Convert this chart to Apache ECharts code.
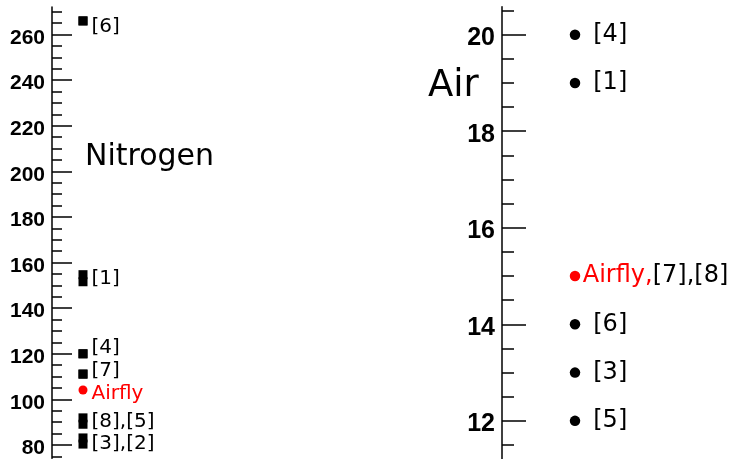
<!DOCTYPE html>
<html>
<head>
<meta charset="utf-8">
<script src="https://cdn.jsdelivr.net/npm/echarts@6/dist/echarts.min.js"></script>
<style>
  html, body { margin: 0; padding: 0; background: #fff; }
  #chart { width: 729px; height: 459px; }
</style>
</head>
<body>
<div id="chart"></div>
<script>
// 左图 Nitrogen
const nitroTicks = [80, 100, 120, 140, 160, 180, 200, 220, 240, 260];
const nitroMinor = [75, 80, 85, 90, 95, 100, 105, 110, 115, 120, 125, 130, 135, 140, 145, 150, 155, 160, 165, 170, 175, 180, 185, 190, 195, 200, 205, 210, 215, 220, 225, 230, 235, 240, 245, 250, 255, 260, 265, 270];
const nitroRefs = ['[6]', '[1]', '[4]', '[7]', '[8],[5]', '[3],[2]'];
const nitroLow = [266, 151.6, 120, 111.1, 89.1, 80.4];
const nitroHigh = [266, 154.7, 120, 111.1, 91.9, 83.1];
const nitroLabelAt = [263.6, 152.8, 122.8, 112.4, 90.0, 80.7];
const nitroAirfly = 104.1;
const nitroAirflyLabelAt = 102.6;

// 右图 Air
const airTicks = [12, 14, 16, 18, 20];
const airMinor = [11.5, 12, 12.5, 13, 13.5, 14, 14.5, 15, 15.5, 16, 16.5, 17, 17.5, 18, 18.5, 19, 19.5, 20, 20.5];
const airRefs = ['[4]', '[1]', '[6]', '[3]', '[5]'];
const airValues = [20, 19, 14, 13, 12];
const airAirfly = 15;
const airAirflyRefs = '[7],[8]';

const chart = echarts.init(document.getElementById('chart'));

const labelFont = 'DejaVu Sans';
const tickFont = 'Liberation Sans';

function majorAxis(grid, min, max, ticks, len, size) {
  return {
    type: 'value', gridIndex: grid, min: min, max: max, position: 'left',
    splitLine: { show: false },
    axisLine: { show: true, lineStyle: { color: '#000', width: 1.5 } },
    axisTick: { show: true, inside: true, length: len, customValues: ticks, lineStyle: { color: '#000', width: 1.5 } },
    axisLabel: {
      show: true, customValues: ticks, margin: 7,
      formatter: '{t|{value}}',
      rich: { t: { color: '#000', fontWeight: 'bold', fontSize: size, fontFamily: tickFont, padding: [7, 0, 0, 0] } }
    }
  };
}
function minorAxis(grid, min, max, ticks, len) {
  return {
    type: 'value', gridIndex: grid, min: min, max: max, position: 'left',
    splitLine: { show: false },
    axisLine: { show: false },
    axisTick: { show: true, inside: true, length: len, customValues: ticks, lineStyle: { color: '#000', width: 1.5 } },
    axisLabel: { show: false }
  };
}

const pt = (cat) => (v) => [cat, v];

const option = {
  animation: false,
  backgroundColor: '#fff',
  grid: [
    { left: 52, top: 7, width: 62, bottom: 0 },
    { left: 502, top: 6.7, width: 146, bottom: 0 }
  ],
  xAxis: [
    { type: 'category', gridIndex: 0, data: ['N'], show: false },
    { type: 'category', gridIndex: 1, data: ['A'], show: false }
  ],
  yAxis: [
    majorAxis(0, 74.17, 272.1, nitroTicks, 20, 21),
    minorAxis(0, 74.17, 272.1, nitroMinor, 10),
    majorAxis(1, 11.21, 20.58, airTicks, 24, 25),
    minorAxis(1, 11.21, 20.58, airMinor, 12)
  ],
  graphic: [
    { type: 'text', left: 85, top: 142, style: { text: 'Nitrogen', fontFamily: labelFont, fontSize: 30, fill: '#000' } },
    { type: 'text', left: 428, top: 68, style: { text: 'Air', fontFamily: labelFont, fontSize: 37, fill: '#000' } }
  ],
  series: [
    {
      type: 'scatter', xAxisIndex: 0, yAxisIndex: 0, symbol: 'rect', symbolSize: 9,
      itemStyle: { color: '#000', opacity: 1 }, data: nitroLow.map(pt('N'))
    },
    {
      type: 'scatter', xAxisIndex: 0, yAxisIndex: 0, symbol: 'rect', symbolSize: 9,
      itemStyle: { color: '#000', opacity: 1 }, data: nitroHigh.map(pt('N'))
    },
    {
      type: 'scatter', xAxisIndex: 0, yAxisIndex: 0, symbol: 'circle', symbolSize: 9,
      itemStyle: { color: '#ff0000', opacity: 1 }, data: [['N', nitroAirfly]]
    },
    {
      // 左图文字标注
      type: 'scatter', xAxisIndex: 0, yAxisIndex: 0, symbolSize: 1,
      itemStyle: { color: 'transparent', opacity: 1 },
      label: { show: true, position: 'right', distance: 8, fontFamily: labelFont, fontSize: 20, color: '#000', opacity: 1,
        formatter: (p) => p.data.name },
      data: nitroLabelAt.map((v, i) => ({ name: nitroRefs[i], value: ['N', v] }))
        .concat([{ name: 'Airfly', value: ['N', nitroAirflyLabelAt], label: { color: '#ff0000' } }])
    },
    {
      type: 'scatter', xAxisIndex: 1, yAxisIndex: 2, symbol: 'circle', symbolSize: 10.5,
      itemStyle: { color: '#000', opacity: 1 },
      label: { show: true, position: 'right', distance: 13, fontFamily: labelFont, fontSize: 24, color: '#000', opacity: 1,
        formatter: (p) => p.data.name },
      data: airValues.map((v, i) => ({ name: airRefs[i], value: ['A', v] }))
    },
    {
      type: 'scatter', xAxisIndex: 1, yAxisIndex: 2, symbol: 'circle', symbolSize: 10.5,
      itemStyle: { color: '#ff0000', opacity: 1 },
      label: {
        show: true, position: 'right', distance: 2.5, fontFamily: labelFont, fontSize: 24, opacity: 1,
        formatter: '{r|Airfly,}{k|' + airAirflyRefs + '}',
        rich: {
          r: { color: '#ff0000', fontFamily: labelFont, fontSize: 24 },
          k: { color: '#000', fontFamily: labelFont, fontSize: 24 }
        }
      },
      data: [['A', airAirfly]]
    }
  ]
};

chart.setOption(option);
</script>
</body>
</html>
